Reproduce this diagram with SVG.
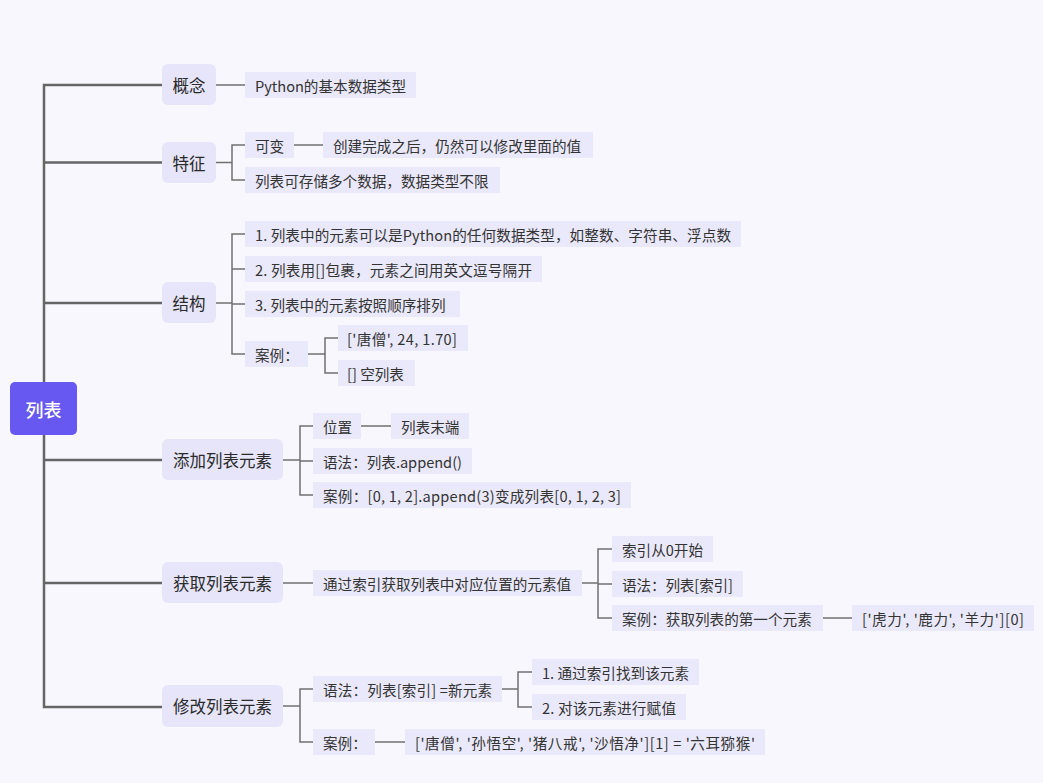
<svg xmlns="http://www.w3.org/2000/svg" width="1043" height="783" viewBox="0 0 1043 783">
<style>
text{font-family:"Noto Sans CJK SC","Noto Sans",sans-serif;dominant-baseline:central;fill:#333}
.main rect{fill:#e6e5fa}
.main text{font-size:16.5px;font-weight:400;fill:#2a2a2a}
.leaf rect{fill:#eae9fb}
.leaf text{font-size:14.6px}
.trunk{fill:none;stroke:#666;stroke-width:2.5}
.link{fill:none;stroke:#707070;stroke-width:1.5}
</style>
<rect width="1043" height="783" fill="#f8f7fd"/>
<g id="connectors">
<path class="trunk" d="M162,85 H44 V707 H162 M44,162.5 H162 M44,303 H162 M44,460 H162 M44,583 H162"/>
<path class="link" d="M216,85 H245"/>
<path class="link" d="M216,162.5 H232 M245,145 H232 V180 H245 M294,145 H323"/>
<path class="link" d="M216,303 H232 M245,234 H232 V354 H245 M232,269 H245 M232,304 H245"/>
<path class="link" d="M308,354 H325 M338,338 H325 V373 H338"/>
<path class="link" d="M283,460 H300 M313,426 H300 V495 H313 M300,461 H313 M361,426 H391"/>
<path class="link" d="M283,583 H313 M582,583 H598 M612,549 H598 V618 H612 M598,584 H612 M823,618 H852"/>
<path class="link" d="M283,706 H300 M313,689 H300 V742 H313 M375,742 H405 M502,689 H518 M532,672 H518 V707 H532"/>
</g>
<g id="root"><rect x="10" y="382" width="67" height="53" rx="5" fill="#6658f0"/><text x="43.5" y="409" text-anchor="middle" style="fill:#fff;font-size:18px;font-weight:500">列表</text></g>
<g id="n-gainian" class="main"><rect x="162" y="64" width="54" height="41" rx="6"/><text x="189" y="84.5" text-anchor="middle">概念</text></g>
<g id="n-tezheng" class="main"><rect x="162" y="142" width="54" height="41" rx="6"/><text x="189" y="162.5" text-anchor="middle">特征</text></g>
<g id="n-jiegou" class="main"><rect x="162" y="282" width="54" height="41" rx="6"/><text x="189" y="302.5" text-anchor="middle">结构</text></g>
<g id="n-add" class="main"><rect x="162" y="439" width="121" height="41" rx="6"/><text x="222.5" y="459.5" text-anchor="middle">添加列表元素</text></g>
<g id="n-get" class="main"><rect x="162" y="562" width="121" height="41" rx="6"/><text x="222.5" y="582.5" text-anchor="middle">获取列表元素</text></g>
<g id="n-mod" class="main"><rect x="162" y="685" width="121" height="42" rx="6"/><text x="222.5" y="706" text-anchor="middle">修改列表元素</text></g>
<g id="l-python" class="leaf"><rect x="245" y="72" width="171" height="26"/><text x="255" y="85" textLength="151" lengthAdjust="spacing">Python的基本数据类型</text></g>
<g id="l-kebian" class="leaf"><rect x="245" y="132" width="49" height="26"/><text x="255" y="145">可变</text></g>
<g id="l-chuangjian" class="leaf"><rect x="323" y="132" width="270" height="26"/><text x="333" y="145">创建完成之后，仍然可以修改里面的值</text></g>
<g id="l-cunchu" class="leaf"><rect x="245" y="167" width="255" height="26"/><text x="255" y="180">列表可存储多个数据，数据类型不限</text></g>
<g id="l-s1" class="leaf"><rect x="245" y="221" width="496" height="26"/><text x="255" y="234" textLength="476" lengthAdjust="spacing">1. 列表中的元素可以是Python的任何数据类型，如整数、字符串、浮点数</text></g>
<g id="l-s2" class="leaf"><rect x="245" y="256" width="297" height="26"/><text x="255" y="269" textLength="277" lengthAdjust="spacing">2. 列表用[]包裹，元素之间用英文逗号隔开</text></g>
<g id="l-s3" class="leaf"><rect x="245" y="291" width="215" height="26"/><text x="255" y="304">3. 列表中的元素按照顺序排列</text></g>
<g id="l-s4" class="leaf"><rect x="245" y="341" width="63" height="26"/><text x="255" y="354">案例：</text></g>
<g id="l-s4a" class="leaf"><rect x="338" y="325" width="130" height="26"/><text x="347" y="338" textLength="110" lengthAdjust="spacing">['唐僧', 24, 1.70]</text></g>
<g id="l-s4b" class="leaf"><rect x="338" y="360" width="77" height="26"/><text x="347" y="373">[] 空列表</text></g>
<g id="l-a1" class="leaf"><rect x="313" y="413" width="48" height="26"/><text x="323" y="426">位置</text></g>
<g id="l-a1a" class="leaf"><rect x="391" y="413" width="78" height="26"/><text x="401" y="426">列表末端</text></g>
<g id="l-a2" class="leaf"><rect x="313" y="448" width="159" height="26"/><text x="323" y="461" textLength="139" lengthAdjust="spacing">语法：列表.append()</text></g>
<g id="l-a3" class="leaf"><rect x="313" y="482" width="318" height="26"/><text x="323" y="495" textLength="298" lengthAdjust="spacing">案例：[0, 1, 2].append(3)变成列表[0, 1, 2, 3]</text></g>
<g id="l-g1" class="leaf"><rect x="313" y="570" width="269" height="26"/><text x="323" y="583">通过索引获取列表中对应位置的元素值</text></g>
<g id="l-g1a" class="leaf"><rect x="612" y="536" width="101" height="26"/><text x="622" y="549" textLength="81" lengthAdjust="spacing">索引从0开始</text></g>
<g id="l-g1b" class="leaf"><rect x="612" y="571" width="131" height="26"/><text x="622" y="584" textLength="111" lengthAdjust="spacing">语法：列表[索引]</text></g>
<g id="l-g1c" class="leaf"><rect x="612" y="605" width="211" height="26"/><text x="622" y="618">案例：获取列表的第一个元素</text></g>
<g id="l-g1d" class="leaf"><rect x="852" y="605" width="182" height="26"/><text x="862" y="618" textLength="162" lengthAdjust="spacing">['虎力', '鹿力', '羊力'][0]</text></g>
<g id="l-m1" class="leaf"><rect x="313" y="676" width="189" height="26"/><text x="323" y="689" textLength="169" lengthAdjust="spacing">语法：列表[索引] =新元素</text></g>
<g id="l-m1a" class="leaf"><rect x="532" y="659" width="167" height="26"/><text x="542" y="672" textLength="147" lengthAdjust="spacing">1. 通过索引找到该元素</text></g>
<g id="l-m1b" class="leaf"><rect x="532" y="694" width="154" height="26"/><text x="542" y="707" textLength="134" lengthAdjust="spacing">2. 对该元素进行赋值</text></g>
<g id="l-m2" class="leaf"><rect x="313" y="729" width="62" height="26"/><text x="323" y="742">案例：</text></g>
<g id="l-m2a" class="leaf"><rect x="405" y="729" width="360" height="26"/><text x="415" y="742" textLength="340" lengthAdjust="spacing">['唐僧', '孙悟空', '猪八戒', '沙悟净'][1] = '六耳猕猴'</text></g>
</svg>
